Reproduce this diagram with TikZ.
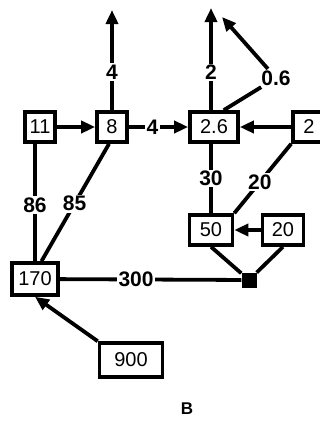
\documentclass[tikz,border=0pt]{standalone}
\usepackage{fontspec}
\setmainfont{Liberation Sans}
\usetikzlibrary{arrows.meta,calc,positioning}

\begin{document}
\begin{tikzpicture}[
  x=1pt, y=-1pt,
  line join=miter,
  box/.style={draw=black, line width=3.6pt, fill=white, minimum height=30pt, minimum width=30pt, inner sep=2pt, font=\fontsize{20}{20}\selectfont},
  edge/.style={line width=3.8pt, draw=black},
  flow/.style={edge, -{Triangle[length=14pt,width=12pt]}},
  lbl/.style={fill=white, inner sep=1.5pt, font=\bfseries\fontsize{21}{21}\selectfont},
  junction/.style={fill=black, minimum size=15pt, inner sep=0pt}
]

% Page frame.
\useasboundingbox (0,0) rectangle (320,421);

% Blocks.
\node[box] (n11) at (40,127) {11};
\node[box] (n8) at (112,127) {8};
\node[box, minimum width=48pt] (n26) at (214,127) {2.6};
\node[box, minimum width=32pt] (n2) at (309,127) {2};
\node[box, minimum width=43pt] (n50) at (211,230) {50};
\node[box, minimum width=41pt] (n20) at (283,230) {20};
\node[box, minimum width=46pt, minimum height=32pt] (n170) at (35,279) {170};
\node[box, minimum width=63pt, minimum height=34pt] (n900) at (131,360) {900};
\node[junction] (jn) at (249,280) {};

% Outgoing streams.
\coordinate (t8) at (112,10);
\coordinate (t26) at (211,8);
\coordinate (t06) at (222,17);
\node[lbl] (l06) at (276,78) {0.6};

\draw[flow] (n8.north) -- node[lbl, pos=0.38] {4} (t8);
\draw[flow] (n26.north -| t26) -- node[lbl, pos=0.37] {2} (t26);
\draw[edge] (n26.60) -- (l06);
\draw[flow] (l06) -- (t06);

% Top row.
\draw[flow] (n11) -- (n8);
\draw[flow] (n8) -- node[lbl, pos=0.4] {4} (n26);
\draw[flow] (n2) -- (n26);

% Right branch.
\draw[edge] (n26.south -| n50) -- node[lbl] {30} (n50);
\draw[edge] (n2.south west) -- node[lbl, pos=0.55] {20} (n50.north east);
\draw[flow] (n20) -- (n50);
\draw[edge] (n50.south) -- (jn);
\draw[edge] (n20.south) -- (jn);

% Left branch.
\draw[edge] (n170.north |- n11.south) -- node[lbl, pos=0.52] {86} (n170.north);
\draw[edge] (n8.260) -- node[lbl, pos=0.51] {85} (n170.70);
\draw[edge] (jn) -- node[lbl, pos=0.58] {300} (n170);
\draw[flow] (n900.north west) -- (n170.south);

% Caption.
\node[font=\bfseries\fontsize{17}{17}\selectfont] (cap) at (187,409) {B};

\end{tikzpicture}
\end{document}
